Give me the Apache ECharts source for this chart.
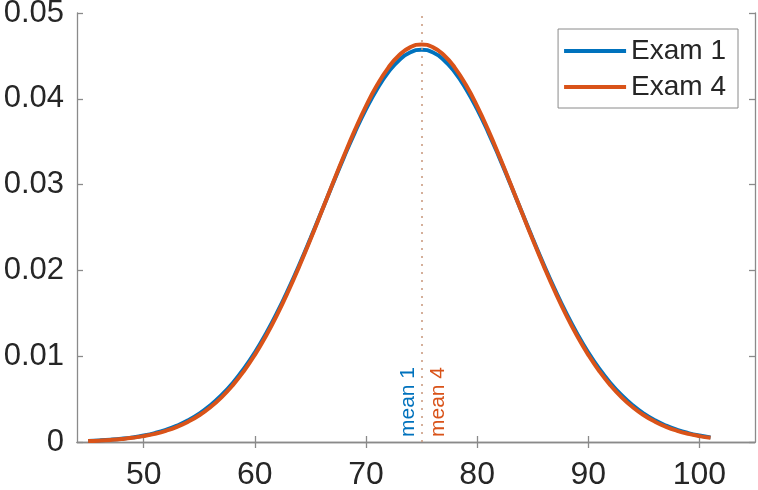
<!DOCTYPE html>
<html>
<head>
<meta charset="utf-8">
<script src="https://cdn.jsdelivr.net/npm/echarts@6.0.0/dist/echarts.min.js"></script>
<style>
  html, body { margin: 0; padding: 0; background: #fff; }
  #main { width: 758px; height: 490px; }
</style>
</head>
<body>
<div id="main"></div>
<script>
// x positions of the sampled points (45 .. 101, step 1)
var xs = [45, 46, 47, 48, 49, 50, 51, 52, 53, 54, 55, 56, 57, 58, 59, 60, 61, 62, 63,
          64, 65, 66, 67, 68, 69, 70, 71, 72, 73, 74, 75, 76, 77, 78, 79, 80, 81, 82,
          83, 84, 85, 86, 87, 88, 89, 90, 91, 92, 93, 94, 95, 96, 97, 98, 99, 100, 101];
// Exam 1 density (blue)
var exam1 = [0.000124, 0.000183, 0.000266, 0.000381, 0.000540, 0.000755, 0.001041, 0.001418,
             0.001905, 0.002526, 0.003307, 0.004272, 0.005447, 0.006854, 0.008513, 0.010434,
             0.012623, 0.015072, 0.017760, 0.020656, 0.023710, 0.026860, 0.030033, 0.033141,
             0.036095, 0.038798, 0.041160, 0.043096, 0.044535, 0.045421, 0.045720, 0.045421,
             0.044535, 0.043096, 0.041160, 0.038798, 0.036095, 0.033141, 0.030033, 0.026860,
             0.023710, 0.020656, 0.017760, 0.015072, 0.012623, 0.010434, 0.008513, 0.006854,
             0.005447, 0.004272, 0.003307, 0.002526, 0.001905, 0.001418, 0.001041, 0.000755,
             0.000540];
// Exam 4 density (orange)
var exam4 = [0.000107, 0.000159, 0.000234, 0.000339, 0.000485, 0.000684, 0.000951, 0.001306,
             0.001770, 0.002365, 0.003119, 0.004058, 0.005208, 0.006595, 0.008239, 0.010156,
             0.012350, 0.014819, 0.017541, 0.020485, 0.023603, 0.026831, 0.030092, 0.033296,
             0.036348, 0.039148, 0.041598, 0.043610, 0.045106, 0.046028, 0.046340, 0.046028,
             0.045106, 0.043610, 0.041598, 0.039148, 0.036348, 0.033296, 0.030092, 0.026831,
             0.023603, 0.020485, 0.017541, 0.014819, 0.012350, 0.010156, 0.008239, 0.006595,
             0.005208, 0.004058, 0.003119, 0.002365, 0.001770, 0.001306, 0.000951, 0.000684,
             0.000485];
var mean1 = 75;
var mean4 = 75;
var xTicks = [50, 60, 70, 80, 90, 100];

var blue = '#0072BD';
var orange = '#D95319';
var axisGray = '#8a8a8a';
var textColor = '#262626';

function pairs(x, y){
    var out = [];
    x.forEach(function(v, i){
        out.push([v, y[i]]);
    });
    return out;
}

var myChart = echarts.init(document.getElementById('main'));

var option = {
    animation: false,
    textStyle: { fontFamily: 'Liberation Sans, Arial, Helvetica, sans-serif' },
    grid: { left: 77, right: 3, top: 13, bottom: 48, outerBoundsMode: 'none' },
    legend: {
        orient: 'vertical',
        right: 20,
        top: 29,
        icon: 'rect',
        itemWidth: 62,
        itemHeight: 4,
        itemGap: 8,
        padding: [8, 12, 7, 6],
        borderColor: axisGray,
        borderWidth: 1,
        backgroundColor: '#fff',
        textStyle: { fontSize: 28, color: textColor },
        data: ['Exam 1', 'Exam 4']
    },
    xAxis: [{
        type: 'value',
        min: 44,
        max: 105,
        axisLine: { show: true, lineStyle: { color: axisGray, width: 1.3 } },
        axisTick: { show: true, inside: true, length: 6, customValues: xTicks,
                    lineStyle: { color: axisGray, width: 1.3 } },
        axisLabel: { customValues: xTicks, fontSize: 32, color: textColor, margin: 17 },
        splitLine: { show: false }
    }, {
        type: 'value',
        position: 'top',
        min: 44,
        max: 105,
        axisLine: { show: true, lineStyle: { color: axisGray, width: 1.3 } },
        axisTick: { show: true, inside: true, length: 6, customValues: xTicks,
                    lineStyle: { color: axisGray, width: 1.3 } },
        axisLabel: { show: false },
        splitLine: { show: false }
    }],
    yAxis: [{
        type: 'value',
        min: 0,
        max: 0.05,
        interval: 0.01,
        axisLine: { show: true, lineStyle: { color: axisGray, width: 1.3 } },
        axisTick: { show: true, inside: true, length: 6, lineStyle: { color: axisGray, width: 1.3 } },
        axisLabel: { fontSize: 31, color: textColor, margin: 13 },
        splitLine: { show: false }
    }, {
        type: 'value',
        position: 'right',
        min: 0,
        max: 0.05,
        interval: 0.01,
        axisLine: { show: true, lineStyle: { color: axisGray, width: 1.3 } },
        axisTick: { show: true, inside: true, length: 6, lineStyle: { color: axisGray, width: 1.3 } },
        axisLabel: { show: false },
        splitLine: { show: false }
    }],
    series: [{
        name: 'Exam 1',
        type: 'line',
        smooth: true,
        showSymbol: false,
        color: blue,
        lineStyle: { width: 4, color: blue },
        data: pairs(xs, exam1),
        markLine: {
            silent: true,
            symbol: 'none',
            lineStyle: { color: 'rgba(0,0,0,0)', width: 0 },
            label: {
                show: true,
                position: 'insideStartTop',
                formatter: 'mean 1',
                color: blue,
                fontSize: 21,
                distance: [5, 3]
            },
            data: [{ xAxis: mean1 }]
        }
    }, {
        name: 'Exam 4',
        type: 'line',
        smooth: true,
        showSymbol: false,
        color: orange,
        lineStyle: { width: 4, color: orange },
        data: pairs(xs, exam4),
        markLine: {
            silent: true,
            symbol: 'none',
            lineStyle: { color: '#c8957a', type: [2, 6], width: 1.5 },
            label: {
                show: true,
                position: 'insideStartBottom',
                formatter: 'mean 4',
                color: orange,
                fontSize: 21,
                distance: [5, 6]
            },
            data: [{ xAxis: mean4 }]
        }
    }]
};

myChart.setOption(option);
</script>
</body>
</html>
